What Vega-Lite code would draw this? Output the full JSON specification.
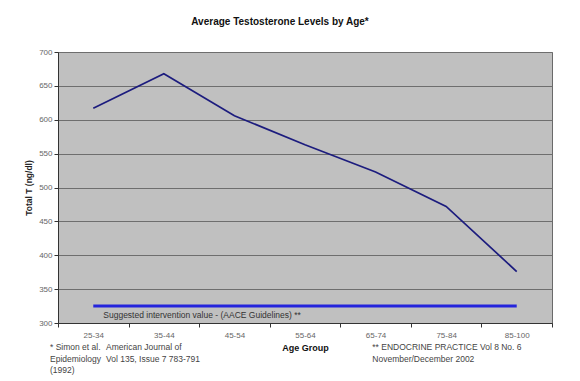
{
  "$schema": "https://vega.github.io/schema/vega-lite/v6.json",
  "width": 494,
  "height": 271,
  "autosize": {"type": "none"},
  "padding": {"left": 58, "top": 52, "right": 28, "bottom": 58},
  "background": "white",
  "config": {
    "font": "Liberation Sans",
    "view": {"fill": "#c0c0c0", "stroke": "#6a6a6a", "strokeWidth": 1},
    "text": {"fontSize": 8.5, "color": "#444", "align": "left", "baseline": "middle"},
    "axisX": {
      "titleFontSize": 9,
      "titleFontWeight": "bold",
      "titleColor": "#111",
      "titlePadding": 4,
      "labelAngle": 0,
      "labelFontSize": 8,
      "labelColor": "#666",
      "labelPadding": 4,
      "tickSize": 4,
      "tickBand": "extent",
      "tickColor": "#333",
      "domainColor": "#333",
      "grid": false
    },
    "axisY": {
      "titleFontSize": 8.5,
      "titleFontWeight": "bold",
      "titleColor": "#222",
      "titlePadding": 5,
      "tickCount": 8,
      "labelFontSize": 8,
      "labelColor": "#666",
      "labelPadding": 2,
      "tickSize": 4,
      "tickColor": "#333",
      "domainColor": "#333",
      "grid": true,
      "gridColor": "#6e6e6e",
      "gridWidth": 1
    }
  },
  "title": {
    "text": "Average Testosterone Levels by Age*",
    "fontSize": 10,
    "fontWeight": "bold",
    "color": "#111",
    "anchor": "middle",
    "dx": -25,
    "offset": 21
  },
  "datasets": {
    "notes": [
      {"at": "25-34", "col": "a", "line": 1, "note": "* Simon et al."},
      {"at": "25-34", "col": "a", "line": 2, "note": "Epidemiology"},
      {"at": "25-34", "col": "a", "line": 3, "note": "(1992)"},
      {"at": "25-34", "col": "b", "line": 1, "note": "American Journal of"},
      {"at": "25-34", "col": "b", "line": 2, "note": "Vol 135, Issue 7 783-791"},
      {"at": "65-74", "col": "c", "line": 1, "note": "** ENDOCRINE PRACTICE Vol 8 No. 6"},
      {"at": "65-74", "col": "c", "line": 2, "note": "November/December 2002"}
    ]
  },
  "layer": [
    {
      "data": {
        "values": [
          {"age": "25-34", "t": 617},
          {"age": "35-44", "t": 668},
          {"age": "45-54", "t": 606},
          {"age": "55-64", "t": 563},
          {"age": "65-74", "t": 523},
          {"age": "75-84", "t": 472},
          {"age": "85-100", "t": 376}
        ]
      },
      "mark": {"type": "line", "color": "#1c1c7e", "strokeWidth": 1.7},
      "encoding": {
        "x": {
          "field": "age",
          "type": "nominal",
          "sort": null,
          "title": "Age Group",
          "scale": {"type": "band", "paddingInner": 0, "paddingOuter": 0, "domain": ["25-34","35-44","45-54","55-64","65-74","75-84","85-100"]}
        },
        "y": {
          "field": "t",
          "type": "quantitative",
          "title": "Total T (ng/dl)",
          "scale": {"domain": [300, 700], "nice": false, "zero": false}
        }
      }
    },
    {
      "data": {"values": [{"from": "25-34", "to": "85-100", "value": 325}]},
      "mark": {"type": "rule", "color": "#2424dc", "strokeWidth": 3},
      "encoding": {
        "x": {"field": "from", "type": "nominal", "title": "Age Group"},
        "x2": {"field": "to"},
        "y": {"field": "value", "type": "quantitative", "title": "Total T (ng/dl)"}
      }
    },
    {
      "data": {"values": [{"at": "25-34", "value": 325, "label": "Suggested intervention value -  (AACE Guidelines) **"}]},
      "mark": {"type": "text", "dx": 10, "dy": 9, "color": "#333"},
      "encoding": {
        "x": {"field": "at", "type": "nominal", "title": "Age Group"},
        "y": {"field": "value", "type": "quantitative", "title": "Total T (ng/dl)"},
        "text": {"field": "label", "type": "nominal"}
      }
    },
    {
      "data": {"name": "notes"},
      "transform": [{"filter": "datum.col == 'a' && datum.line == 1"}],
      "mark": {"type": "text", "dx": -8, "dy": 24},
      "encoding": {
        "x": {"field": "at", "type": "nominal", "bandPosition": 0, "title": "Age Group"},
        "y": {"datum": 300, "type": "quantitative"},
        "text": {"field": "note", "type": "nominal"}
      }
    },
    {
      "data": {"name": "notes"},
      "transform": [{"filter": "datum.col == 'a' && datum.line == 2"}],
      "mark": {"type": "text", "dx": -8, "dy": 36},
      "encoding": {
        "x": {"field": "at", "type": "nominal", "bandPosition": 0, "title": "Age Group"},
        "y": {"datum": 300, "type": "quantitative"},
        "text": {"field": "note", "type": "nominal"}
      }
    },
    {
      "data": {"name": "notes"},
      "transform": [{"filter": "datum.col == 'a' && datum.line == 3"}],
      "mark": {"type": "text", "dx": -8, "dy": 47},
      "encoding": {
        "x": {"field": "at", "type": "nominal", "bandPosition": 0, "title": "Age Group"},
        "y": {"datum": 300, "type": "quantitative"},
        "text": {"field": "note", "type": "nominal"}
      }
    },
    {
      "data": {"name": "notes"},
      "transform": [{"filter": "datum.col == 'b' && datum.line == 1"}],
      "mark": {"type": "text", "dx": 48, "dy": 24},
      "encoding": {
        "x": {"field": "at", "type": "nominal", "bandPosition": 0, "title": "Age Group"},
        "y": {"datum": 300, "type": "quantitative"},
        "text": {"field": "note", "type": "nominal"}
      }
    },
    {
      "data": {"name": "notes"},
      "transform": [{"filter": "datum.col == 'b' && datum.line == 2"}],
      "mark": {"type": "text", "dx": 48, "dy": 36},
      "encoding": {
        "x": {"field": "at", "type": "nominal", "bandPosition": 0, "title": "Age Group"},
        "y": {"datum": 300, "type": "quantitative"},
        "text": {"field": "note", "type": "nominal"}
      }
    },
    {
      "data": {"name": "notes"},
      "transform": [{"filter": "datum.col == 'c' && datum.line == 1"}],
      "mark": {"type": "text", "dx": 32, "dy": 24},
      "encoding": {
        "x": {"field": "at", "type": "nominal", "bandPosition": 0, "title": "Age Group"},
        "y": {"datum": 300, "type": "quantitative"},
        "text": {"field": "note", "type": "nominal"}
      }
    },
    {
      "data": {"name": "notes"},
      "transform": [{"filter": "datum.col == 'c' && datum.line == 2"}],
      "mark": {"type": "text", "dx": 32, "dy": 36},
      "encoding": {
        "x": {"field": "at", "type": "nominal", "bandPosition": 0, "title": "Age Group"},
        "y": {"datum": 300, "type": "quantitative"},
        "text": {"field": "note", "type": "nominal"}
      }
    }
  ]
}
